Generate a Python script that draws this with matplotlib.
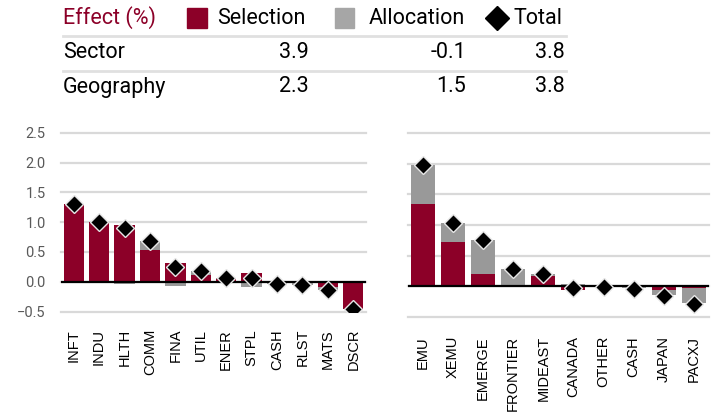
import matplotlib
matplotlib.use("Agg")
import matplotlib.pyplot as plt
from matplotlib.patches import Rectangle
from matplotlib.lines import Line2D
import numpy as np

plt.rcParams['font.family'] = ['Roboto', 'DejaVu Sans']

# data
sectors = ['INFT', 'INDU', 'HLTH', 'COMM', 'FINA', 'UTIL', 'ENER', 'STPL',
           'CASH', 'RLST', 'MATS', 'DSCR']
sector_sel = [1.30, 1.01, 0.95, 0.54, 0.32, 0.11, 0.05, 0.15, 0.00, -0.01, -0.08, -0.46]
sector_alloc = [0.01, 0.00, -0.04, 0.14, -0.07, 0.07, 0.01, -0.09, -0.04, -0.05, -0.06, 0.01]
sector_total = [1.31, 1.01, 0.91, 0.68, 0.25, 0.18, 0.06, 0.06, -0.04, -0.06, -0.14, -0.45]

regions = ['EMU', 'XEMU', 'EMERGE', 'FRONTIER', 'MIDEAST', 'CANADA', 'OTHER',
           'CASH', 'JAPAN', 'PACXJ']
region_sel = [1.34, 0.72, 0.20, 0.00, 0.17, -0.06, 0.00, -0.01, -0.06, -0.04]
region_alloc = [0.64, 0.32, 0.56, 0.28, 0.03, 0.03, -0.01, -0.03, -0.09, -0.24]
region_total = [1.98, 1.04, 0.76, 0.28, 0.20, -0.03, -0.01, -0.05, -0.16, -0.29]

table_rows = ['Sector', 'Geography']
table_sel = ['3.9', '2.3']
table_alloc = ['-0.1', '1.5']
table_total = ['3.8', '3.8']

RED = '#8c0028'
GRAY = '#999999'
W, H = 716, 413


def fx(px):
    return px / W


def fy(py):
    return 1 - py / H


def draw_panel(ax, labels, sel, alloc, total, show_y, xpad):
    x = np.arange(len(labels))
    sel = np.array(sel)
    alloc = np.array(alloc)
    # excel-style stacking: positives up from 0, negatives down from 0
    bottom = np.where(np.sign(alloc) == np.sign(sel), sel, 0)
    ax.bar(x, sel, width=0.8, color=RED, zorder=2)
    ax.bar(x, alloc, width=0.8, bottom=bottom, color=GRAY, zorder=2)
    ax.plot(x, total, linestyle='none', marker='D', markersize=9,
            markerfacecolor='black', markeredgecolor='#e6e6e6',
            markeredgewidth=1, zorder=4)
    ax.set_xlim(-0.5, len(labels) - 0.5)
    ax.set_ylim(-0.5, 2.5)
    ax.set_yticks([-0.5, 0, 0.5, 1.0, 1.5, 2.0, 2.5])
    ax.yaxis.grid(True, color='#d9d9d9', linewidth=1.6)
    for gl in ax.get_ygridlines():
        gl.set_clip_on(False)
    ax.set_axisbelow(True)
    ax.axhline(0, color='black', linewidth=1.6, zorder=3)
    for s in ax.spines.values():
        s.set_visible(False)
    ax.set_xticks(x)
    ax.set_xticklabels(labels, rotation=90, fontsize=10.5, color='black',
                       family=['Liberation Sans', 'DejaVu Sans'])
    ax.tick_params(axis='x', length=0, pad=xpad)
    ax.tick_params(axis='y', length=0, pad=11, labelsize=10.5, labelcolor='#595959')
    if not show_y:
        ax.tick_params(axis='y', labelleft=False)


fig = plt.figure(figsize=(7.16, 4.13), dpi=100)

ax1 = fig.add_axes([fx(61), fy(311.6), fx(366) - fx(61), fy(132.7) - fy(311.6)])
draw_panel(ax1, sectors, sector_sel, sector_alloc, sector_total, True, 12.5)

ax2 = fig.add_axes([fx(407.7), fy(316.6), fx(709) - fx(407.7), fy(133.3) - fy(316.6)])
draw_panel(ax2, regions, region_sel, region_alloc, region_total, False, 14)

# header table
fs = 15.5
fig.text(fx(63), fy(18), 'Effect (%)', color=RED, fontsize=fs, va='center')
fig.add_artist(Rectangle((fx(187.3), fy(27.7)), fx(19.4), fy(8.3) - fy(27.7),
                         transform=fig.transFigure, color=RED))
fig.text(fx(217), fy(18), 'Selection', fontsize=fs, va='center')
fig.add_artist(Rectangle((fx(335), fy(27.7)), fx(19.4), fy(8.3) - fy(27.7),
                         transform=fig.transFigure, color='#a6a6a6'))
fig.text(fx(369), fy(18), 'Allocation', fontsize=fs, va='center')
fig.add_artist(Line2D([fx(497)], [fy(18)], transform=fig.transFigure,
                      marker='D', markersize=12.5, color='black', linestyle='none'))
fig.text(fx(513), fy(18), 'Total', fontsize=fs, va='center')

for py in (36, 70.5):
    fig.add_artist(Line2D([fx(63), fx(566)], [fy(py), fy(py)],
                          transform=fig.transFigure, color='#e0e0e0', linewidth=2))

for i, name in enumerate(table_rows):
    py = 52 + i * 35
    fig.text(fx(63), fy(py), name, fontsize=fs, va='center')
    fig.text(fx(309), fy(py), table_sel[i], fontsize=fs, va='center', ha='right')
    fig.text(fx(466), fy(py), table_alloc[i], fontsize=fs, va='center', ha='right')
    fig.text(fx(565), fy(py), table_total[i], fontsize=fs, va='center', ha='right')

fig.savefig('out.png', dpi=100)
